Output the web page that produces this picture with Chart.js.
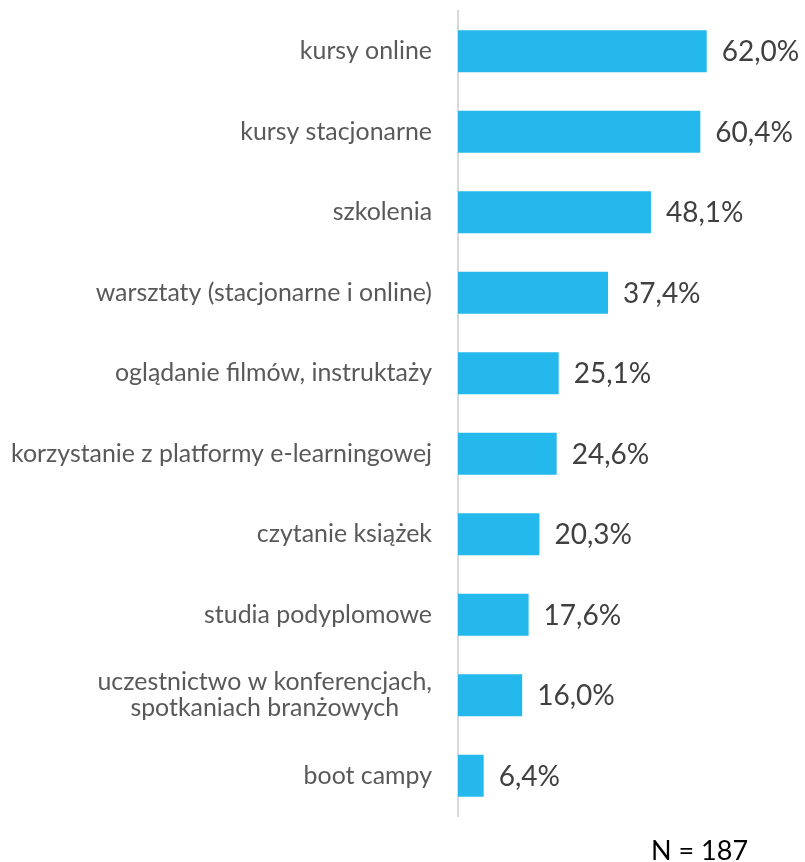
<!DOCTYPE html>
<html>
<head>
<meta charset="utf-8">
<script src="https://cdn.jsdelivr.net/npm/chart.js@4/dist/chart.umd.min.js"></script>
<style>
  html, body { margin: 0; padding: 0; background: #ffffff; }
  #wrap { position: relative; width: 805px; height: 862px; }
  #note { position: absolute; left: 651px; top: 834px; font-family: Lato, sans-serif; font-size: 27px; color: #000000; line-height: 32px; white-space: nowrap; }
</style>
</head>
<body>
<div id="wrap">
  <canvas id="c" width="805" height="862"></canvas>
  <div id="note">N = 187</div>
</div>
<script>
const categories = [
  'kursy online',
  'kursy stacjonarne',
  'szkolenia',
  'warsztaty (stacjonarne i online)',
  'oglądanie filmów, instruktaży',
  'korzystanie z platformy e-learningowej',
  'czytanie książek',
  'studia podyplomowe',
  ['uczestnictwo w konferencjach,', 'spotkaniach branżowych'],
  'boot campy'
];
const values = [62.0, 60.4, 48.1, 37.4, 25.1, 24.6, 20.3, 17.6, 16.0, 6.4];

const LABEL_FONT = '24.9px Lato, sans-serif';
const VALUE_FONT = '28px Lato, sans-serif';

const labelPlugin = {
  id: 'customLabels',
  afterDatasetsDraw(chart) {
    const ctx = chart.ctx;
    const yScale = chart.scales.y;
    const meta = chart.getDatasetMeta(0);
    ctx.save();
    ctx.font = LABEL_FONT;
    ctx.fillStyle = '#595959';
    ctx.textBaseline = 'middle';
    ctx.textAlign = 'center';
    const right = yScale.right - 26;
    categories.forEach((cat, i) => {
      const lines = Array.isArray(cat) ? cat : [cat];
      const maxW = Math.max(...lines.map(l => ctx.measureText(l).width));
      const cx = right - maxW / 2;
      const cy = yScale.getPixelForTick(i);
      const lh = 26;
      const startY = cy - (lines.length - 1) * lh / 2;
      lines.forEach((l, j) => ctx.fillText(l, cx, startY + j * lh));
    });
    ctx.font = VALUE_FONT;
    ctx.fillStyle = '#404040';
    ctx.textAlign = 'left';
    meta.data.forEach((bar, i) => {
      const txt = values[i].toFixed(1).replace('.', ',') + '%';
      ctx.fillText(txt, bar.x + 15, bar.y + 1);
    });
    ctx.restore();
  }
};

new Chart(document.getElementById('c'), {
  type: 'bar',
  data: {
    labels: categories,
    datasets: [{
      data: values,
      backgroundColor: '#25B8EC',
      borderWidth: 0,
      categoryPercentage: 1.0,
      barPercentage: 0.52
    }]
  },
  options: {
    indexAxis: 'y',
    responsive: false,
    animation: false,
    devicePixelRatio: 1,
    layout: { padding: { top: 11, bottom: 46, right: 6, left: 0 } },
    plugins: { legend: { display: false }, tooltip: { enabled: false } },
    scales: {
      x: { display: false, min: 0, max: 85 },
      y: {
        afterFit(scale) { scale.width = 458; },
        grid: { display: false, drawTicks: false },
        border: { display: true, color: '#D9D9D9', width: 2 },
        ticks: { display: false }
      }
    }
  },
  plugins: [labelPlugin]
});
</script>
</body>
</html>
